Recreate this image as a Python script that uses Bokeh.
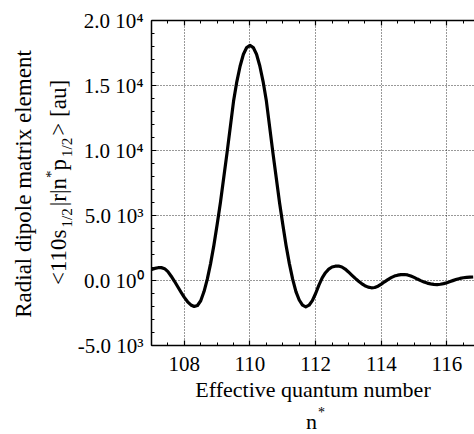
import math
from bokeh.plotting import figure
from bokeh.models import (ColumnDataSource, Range1d, LinearAxis, SingleIntervalTicker, Div)
from bokeh.layouts import row, column
from bokeh.embed import file_html
from bokeh.resources import INLINE

# ---- data ----
n_eff = [107.0, 107.1, 107.2, 107.3, 107.4, 107.5, 107.6, 107.7, 107.8, 107.9,
         108.0, 108.1, 108.2, 108.3, 108.4, 108.5, 108.6, 108.7, 108.8, 108.9,
         109.0, 109.1, 109.2, 109.3, 109.4, 109.5, 109.6, 109.7, 109.8, 109.9,
         110.0, 110.1, 110.2, 110.3, 110.4, 110.5, 110.6, 110.7, 110.8, 110.9,
         111.0, 111.1, 111.2, 111.3, 111.4, 111.5, 111.6, 111.7, 111.8, 111.9,
         112.0, 112.1, 112.2, 112.3, 112.4, 112.5, 112.6, 112.7, 112.8, 112.9,
         113.0, 113.1, 113.2, 113.3, 113.4, 113.5, 113.6, 113.7, 113.8, 113.9,
         114.0, 114.1, 114.2, 114.3, 114.4, 114.5, 114.6, 114.7, 114.8, 114.9,
         115.0, 115.1, 115.2, 115.3, 115.4, 115.5, 115.6, 115.7, 115.8, 115.9,
         116.0, 116.1, 116.2, 116.3, 116.4, 116.5, 116.6, 116.7, 116.8]
matrix_element = [840, 930, 985, 990, 910, 680, 330, -60, -480, -900,
                  -1300, -1640, -1880, -2000, -1920, -1560, -850, 100, 1300, 2700,
                  4300, 6000, 7900, 9800, 11800, 13800, 15300, 16500, 17400, 17920,
                  18080, 17920, 17400, 16500, 15300, 13800, 11800, 9800, 7900, 6000,
                  4300, 2700, 1300, 100, -850, -1500, -1900, -2030, -1900, -1550,
                  -1000, -350, 200, 600, 880, 1040, 1100, 1110, 1040, 880,
                  660, 420, 180, -40, -240, -400, -510, -560, -540, -440,
                  -280, -100, 70, 220, 340, 410, 450, 460, 430, 350,
                  240, 110, -10, -110, -200, -260, -300, -310, -290, -240,
                  -170, -80, 10, 90, 160, 210, 240, 260, 270]
y_tick_values = [-5000, 0, 5000, 10000, 15000, 20000]
y_tick_labels = ["-5.0 10\u00b3", "0.0 10\u2070", "5.0 10\u00b3",
                 "1.0 10\u2074", "1.5 10\u2074", "2.0 10\u2074"]
x_label = "Effective quantum number"
y_label_1 = "Radial dipole matrix element"
y_label_2_html = "&lt;110s<sub>1/2</sub>|r|n<sup>*</sup>p<sub>1/2</sub>&gt; [au]"
x_label_2_html = "n<sup>*</sup>"

FONT = "'Liberation Serif', 'Times New Roman', serif"
W, H = 474, 434
LEFT_W = 74          # width of the y-label column
PLOT_H = 405         # figure height; the rest holds the n* line
FL, FT, FB = 148, 20, 345
X0, X1 = 107.0, 116.84
Y0, Y1 = -5000, 20000

p = figure(width=W - LEFT_W, height=PLOT_H, output_backend="svg", toolbar_location=None,
           x_range=Range1d(X0, X1), y_range=Range1d(Y0, Y1),
           x_axis_location=None, y_axis_location=None,
           min_border_left=FL - LEFT_W, min_border_right=0,
           min_border_top=FT, min_border_bottom=PLOT_H - FB)
p.outline_line_color = None
p.background_fill_color = "white"
p.border_fill_color = "white"

xt = SingleIntervalTicker(interval=2, num_minor_ticks=4)
yt = SingleIntervalTicker(interval=5000, num_minor_ticks=5)

def style_axis(ax):
    ax.axis_line_color = "black"
    ax.axis_line_width = 1.5
    ax.major_tick_in = 5
    ax.major_tick_out = 0
    ax.minor_tick_in = 3
    ax.minor_tick_out = 0
    ax.major_tick_line_color = "black"
    ax.minor_tick_line_color = "black"
    ax.major_tick_line_width = 1.2
    ax.minor_tick_line_width = 1
    ax.major_label_text_font = "Liberation Serif"
    ax.major_label_text_font_size = "21px"
    ax.major_label_text_color = "black"

xb = LinearAxis(ticker=xt, axis_label=x_label)
style_axis(xb)
xb.major_label_standoff = 11
xb.axis_label_text_font = "Liberation Serif"
xb.axis_label_text_font_size = "22px"
xb.axis_label_text_font_style = "normal"
xb.axis_label_text_color = "black"
xb.axis_label_standoff = 3
p.add_layout(xb, "below")

xa = LinearAxis(ticker=xt)
style_axis(xa)
xa.major_label_text_font_size = "1px"
xa.major_label_text_color = None
xa.major_label_standoff = 0
p.add_layout(xa, "above")

yl = LinearAxis(ticker=yt)
style_axis(yl)
yl.major_label_standoff = 8
yl.major_label_overrides = {v: s for v, s in zip(y_tick_values, y_tick_labels)}
p.add_layout(yl, "left")

p.xgrid.ticker = xt
p.ygrid.ticker = yt
for g in (p.xgrid, p.ygrid):
    g.grid_line_color = "black"
    g.grid_line_alpha = 0.8
    g.grid_line_dash = "1 2"
    g.grid_line_width = 1

src = ColumnDataSource(dict(x=n_eff, y=matrix_element))
p.line("x", "y", source=src, line_color="black", line_width=3.2, line_join="round")

# ---- outside texts (HTML, rotated with CSS) ----
MAIN = 23
LH = 22
BASE_OFF = (LH - MAIN * 1.107) / 2 + 0.891 * MAIN   # baseline below line-box top
sub_css = "font-size:15px;line-height:0;vertical-align:-6px;margin:0 2px;"
sup_css = "font-size:15px;line-height:0;vertical-align:10px;"

def html(s, sub=sub_css, sup=sup_css):
    return (s.replace("<sub>", f"<span style='{sub}'>").replace("</sub>", "</span>")
             .replace("<sup>", f"<span style='{sup}'>").replace("</sup>", "</span>"))

ydiv_html = (
    f"<div style=\"position:relative;width:{LEFT_W}px;height:{H}px;"
    f"font-family:{FONT};color:black;font-size:{MAIN}px;line-height:{LH}px;\">"
    f"<span style=\"position:absolute;left:{32 - BASE_OFF:.1f}px;top:184px;white-space:nowrap;"
    f"transform-origin:0 0;transform:rotate(-90deg) translateX(-50%);\">{y_label_1}</span>"
    f"<span style=\"position:absolute;left:{67 - BASE_OFF:.1f}px;top:285px;white-space:nowrap;"
    f"transform-origin:0 0;transform:rotate(-90deg);\">{html(y_label_2_html)}</span>"
    f"</div>")
ydiv = Div(text=ydiv_html, width=LEFT_W, height=H, margin=0)

NLH = 16
n_base = (NLH - 22 * 1.107) / 2 + 0.891 * 22
n_sup = "font-size:14px;line-height:0;vertical-align:12px;margin-left:1px;"
ndiv_html = (
    f"<div style=\"position:relative;width:{W - LEFT_W}px;height:{H - PLOT_H}px;"
    f"font-family:{FONT};color:black;font-size:22px;line-height:{NLH}px;\">"
    f"<span style=\"position:absolute;left:{306 - LEFT_W}px;top:{428 - PLOT_H - n_base:.1f}px;"
    f"white-space:nowrap;\">{html(x_label_2_html, sup=n_sup)}</span></div>")
ndiv = Div(text=ndiv_html, width=W - LEFT_W, height=H - PLOT_H, margin=0)

layout = row(ydiv, column(p, ndiv, spacing=0), spacing=0)
open("out.html", "w").write(file_html(layout, INLINE))
